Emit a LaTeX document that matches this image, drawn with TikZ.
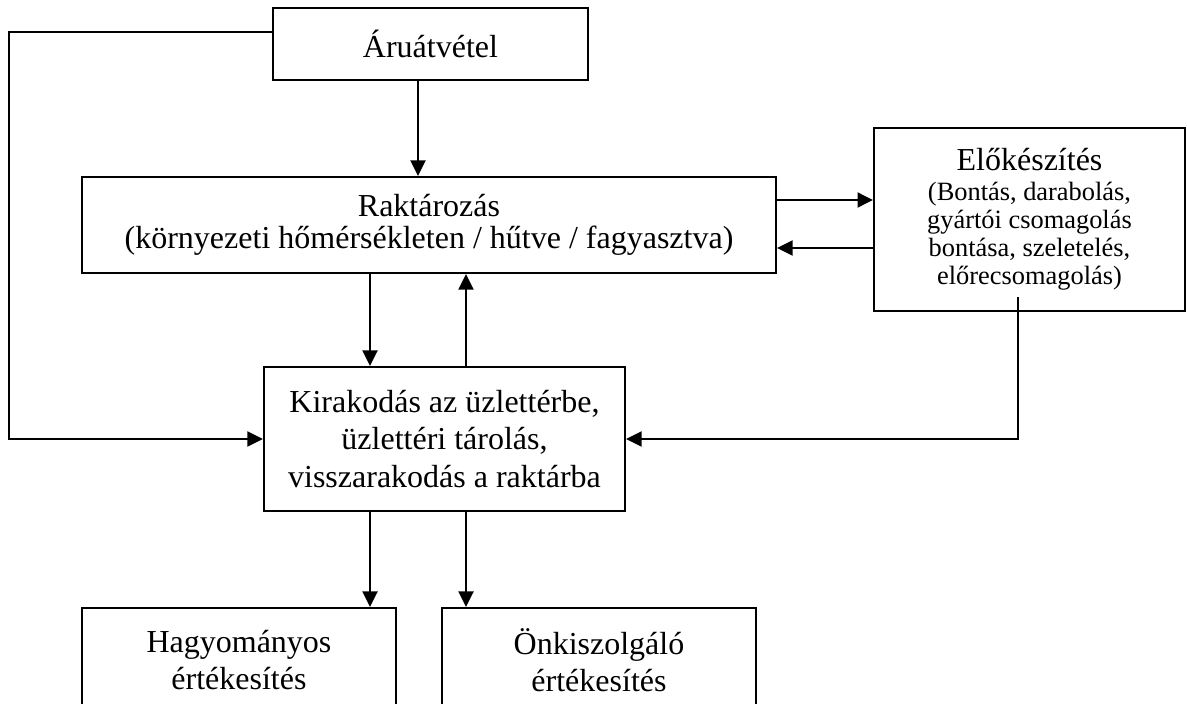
\documentclass[tikz,border=0pt]{standalone}
\usepackage{fontspec}
\setmainfont{Liberation Serif}
\usetikzlibrary{arrows.meta}

\begin{document}
\begin{tikzpicture}[x=0.375pt,y=-0.375pt,
  box/.style={draw, line width=0.8pt, inner sep=0pt, align=center,
    font=\fontsize{12}{13.9}\selectfont},
  arr/.style={line width=0.8pt, -{Triangle[length=5.8pt,width=5.6pt]}}]
  \clip (0,0) rectangle (1187,703);

  % boxes
  \node[box, minimum width=118.1pt, minimum height=27pt] (aru) at (430.5,44) {Áruátvétel};
  \node[box, minimum width=260.3pt, minimum height=36pt,
    font=\fontsize{12}{11.8}\selectfont] (rak) at (429,225)
    {Raktározás\\(környezeti hőmérsékleten / hűtve / fagyasztva)};
  \node[box, minimum width=116.6pt, minimum height=68.6pt, text width=110pt,
    align=flush center, font=\fontsize{9.9}{10.5}\selectfont] (elo) at (1029.5,219.5)
    {\setlength{\lineskiplimit}{-100pt}%
     {\fontsize{12}{10.5}\selectfont Előkészítés}\\[0.8pt]
     (Bontás, darabolás,\\gyártói csomagolás\\bontása, szeletelés,\\előrecsomagolás)};
  \node[box, minimum width=135.4pt, minimum height=54pt] (kir) at (444.5,439)
    {Kirakodás az üzlettérbe,\\üzlettéri tárolás,\\visszarakodás a raktárba};
  \node[box, minimum width=117.8pt, minimum height=39pt] (hag) at (239,660)
    {Hagyományos\\értékesítés};
  \node[box, minimum width=117.8pt, minimum height=39pt] (onk) at (599,660)
    {Önkiszolgáló\\értékesítés};

  % helper coordinates
  \coordinate (xa) at (418,0);
  \coordinate (xl) at (370,0);
  \coordinate (xr) at (466,0);
  \coordinate (xw) at (9,0);
  \coordinate (ya) at (0,32);
  \coordinate (y1) at (0,200);
  \coordinate (y2) at (0,248);
  \coordinate (e0) at (1018,297);

  % arrows
  \draw[arr] (aru.south -| xa) -- (rak.north -| xa);
  \draw[arr] (rak.south -| xl) -- (kir.north -| xl);
  \draw[arr] (kir.north -| xr) -- (rak.south -| xr);
  \draw[arr] (rak.east |- y1) -- (elo.west |- y1);
  \draw[arr] (elo.west |- y2) -- (rak.east |- y2);
  \draw[arr] (kir.south -| xl) -- (hag.north -| xl);
  \draw[arr] (kir.south -| xr) -- (onk.north -| xr);
  \draw[arr] (aru.west |- ya) -- (xw |- ya) -- (xw |- kir.west) -- (kir.west);
  \draw[arr] (e0) |- (kir.east);
\end{tikzpicture}
\end{document}
